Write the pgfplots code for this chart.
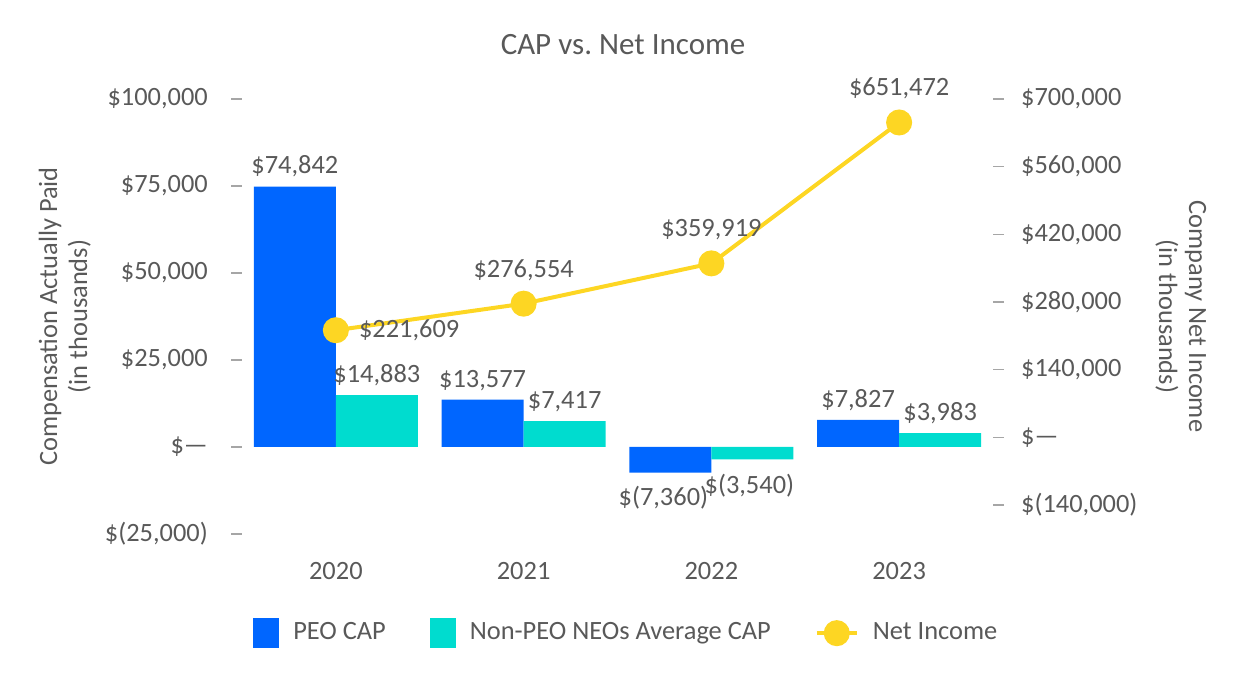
\documentclass[border=0pt]{standalone}
\usepackage{pgfplots}
\pgfplotsset{compat=1.18}
\usepackage{fontspec}
\setmainfont{Carlito}
\definecolor{peoblue}{HTML}{0066FF}
\definecolor{neoteal}{HTML}{00DCCF}
\definecolor{niyellow}{HTML}{FDD623}
\definecolor{txtgray}{HTML}{595959}
\definecolor{tickgray}{HTML}{A6A6A6}
\pgfplotsset{
  barleg/.style={legend image code/.code={\fill[##1] (0pt,-7.5pt) rectangle (13pt,7.5pt);}},
  lineleg/.style={legend image code/.code={\draw[mark repeat=2,mark phase=2,##1] plot coordinates {(0pt,0pt) (10pt,0pt) (20pt,0pt)};}},
}
\begin{document}
\fontsize{13.2}{15}\selectfont
\begin{tikzpicture}
\useasboundingbox (0,0) rectangle (624pt,-344pt);
\node[text=txtgray, font=\fontsize{15.5}{18}\selectfont] at (311.5pt,-22.5pt) {CAP vs.\ Net Income};
\begin{axis}[
  at={(121pt,-267pt)}, anchor=south west,
  scale only axis, width=375.5pt, height=217.5pt,
  xmin=-0.5, xmax=3.5, ymin=-25000, ymax=100000,
  scaled ticks=false,
  axis y line*=left, axis x line*=bottom,
  axis line style={draw=none},
  xtick={0,1,2,3}, xticklabels={2020,2021,2022,2023},
  xtick style={draw=none},
  xticklabel style={text=txtgray, yshift=-4pt},
  ytick={-25000,0,25000,50000,75000,100000},
  yticklabels={{\$(25,000)},{\$\textemdash},{\$25,000},{\$50,000},{\$75,000},{\$100,000}},
  tick align=outside, major tick length=5.5pt,
  ytick style={draw=tickgray, line width=0.7pt},
  yticklabel style={text=txtgray, xshift=-7pt},
  ylabel={Compensation Actually Paid\\(in thousands)},
  ylabel style={align=center, text=txtgray, at={(axis description cs:-0.236,0.5)}, anchor=center},
  ybar=0pt, bar width=41pt,
  nodes near coords, point meta=explicit symbolic,
  every node near coord/.append style={text=txtgray, anchor=south},
  clip=false,
]
\addplot[fill=peoblue, draw=none] coordinates {(0,74842) [\$74,842] (1,13577) [\$13,577] (2,-7360) [] (3,7827) [\$7,827]};
\addplot[fill=neoteal, draw=none] coordinates {(0,14883) [\$14,883] (1,7417) [\$7,417] (2,-3540) [] (3,3983) [\$3,983]};
\node[text=txtgray, anchor=north] at (axis cs:2,-7360) [xshift=-24pt, yshift=-2pt] {\$(7,360)};
\node[text=txtgray, anchor=north] at (axis cs:2,-3540) [xshift=19pt, yshift=-3pt] {\$(3,540)};
\end{axis}
\begin{axis}[
  at={(121pt,-267pt)}, anchor=south west,
  scale only axis, width=375.5pt, height=217.5pt,
  xmin=-0.5, xmax=3.5, ymin=-200000, ymax=700000,
  scaled ticks=false,
  axis y line*=right, hide x axis,
  axis line style={draw=none},
  ytick={-140000,0,140000,280000,420000,560000,700000},
  yticklabels={{\$(140,000)},{\$\textemdash},{\$140,000},{\$280,000},{\$420,000},{\$560,000},{\$700,000}},
  tick align=outside, major tick length=5.5pt,
  ytick style={draw=tickgray, line width=0.7pt},
  yticklabel style={text=txtgray, xshift=4pt},
  ylabel={Company Net Income\\(in thousands)},
  ylabel style={align=center, text=txtgray, rotate=180, at={(axis description cs:1.250,0.5)}, anchor=center},
  clip=false,
  legend style={draw=none, at={(0.513,-0.228)}, anchor=center, text=txtgray,
    legend columns=3,
    /tikz/every odd column/.append style={column sep=5pt},
    /tikz/every even column/.append style={column sep=20pt},
    legend cell align=left},
]
\addlegendimage{barleg, fill=peoblue, draw=none}
\addlegendentry{PEO CAP}
\addlegendimage{barleg, fill=neoteal, draw=none}
\addlegendentry{Non-PEO NEOs Average CAP}
\addplot[color=niyellow, line width=2pt, mark=*, mark size=5.5pt,
  mark options={fill=niyellow, draw=niyellow}, lineleg]
  coordinates {(0,221609) (1,276554) (2,359919) (3,651472)};
\addlegendentry{Net Income}
\node[text=txtgray, anchor=west] at (axis cs:0,221609) [xshift=7pt] {\$221,609};
\node[text=txtgray, anchor=south] at (axis cs:1,276554) [yshift=7pt] {\$276,554};
\node[text=txtgray, anchor=south] at (axis cs:2,359919) [yshift=7pt] {\$359,919};
\node[text=txtgray, anchor=south] at (axis cs:3,651472) [yshift=7pt] {\$651,472};
\end{axis}
\end{tikzpicture}
\end{document}
